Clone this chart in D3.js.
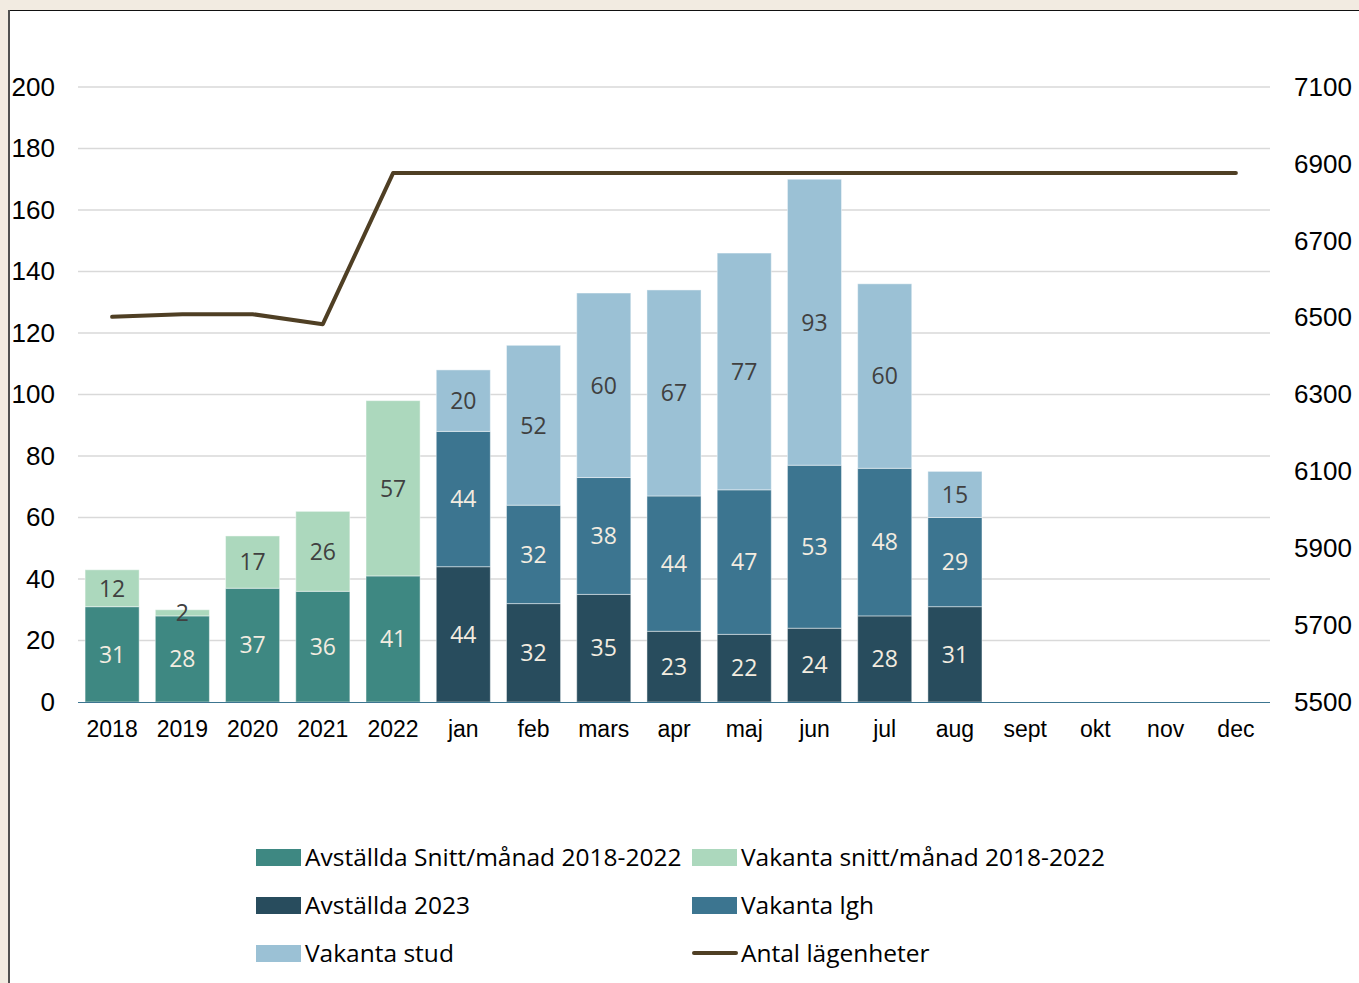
<!DOCTYPE html>
<html><head><meta charset="utf-8">
<script src="https://cdn.jsdelivr.net/npm/d3@7"></script>
<style>
html,body{margin:0;padding:0;background:#f2ebe1;}
svg{display:block;}
</style></head>
<body>
<svg id="chart" width="1359" height="983"></svg>
<script>
const categories = ["2018","2019","2020","2021","2022","jan","feb","mars","apr","maj","jun","jul","aug","sept","okt","nov","dec"];
const avstalldaSnitt = [31,28,37,36,41,null,null,null,null,null,null,null,null,null,null,null,null];
const vakantaSnitt   = [12,2,17,26,57,null,null,null,null,null,null,null,null,null,null,null,null];
const avstallda2023  = [null,null,null,null,null,44,32,35,23,22,24,28,31,null,null,null,null];
const vakantaLgh     = [null,null,null,null,null,44,32,38,44,47,53,48,29,null,null,null,null];
const vakantaStud    = [null,null,null,null,null,20,52,60,67,77,93,60,15,null,null,null,null];
const antalLagenheter = [6502,6509,6509,6483,6876,6876,6876,6876,6876,6876,6876,6876,6876,6876,6876,6876,6876];
const leftTicks = [0,20,40,60,80,100,120,140,160,180,200];
const rightTicks = [5500,5700,5900,6100,6300,6500,6700,6900,7100];

const seriesDefs = [
  {name:"Avställda Snitt/månad 2018-2022", values:avstalldaSnitt, color:"#3e8882", label:"#f3ece0"},
  {name:"Vakanta snitt/månad 2018-2022", values:vakantaSnitt, color:"#acd8bd", label:"#404040"},
  {name:"Avställda 2023", values:avstallda2023, color:"#284c5d", label:"#f3ece0"},
  {name:"Vakanta lgh", values:vakantaLgh, color:"#3c7590", label:"#f3ece0"},
  {name:"Vakanta stud", values:vakantaStud, color:"#9bc1d5", label:"#404040"}
];
const lineColor = "#4f3f24";
const axisFont = "'Liberation Sans', Arial, sans-serif";
const labelFont = "'Open Sans', sans-serif";

const svg = d3.select("#chart");
// frame
svg.append("rect").attr("x",8).attr("y",10).attr("width",1351).attr("height",973).attr("fill","#ffffff");
svg.append("line").attr("x1",8).attr("x2",1359).attr("y1",10.5).attr("y2",10.5).attr("stroke","#111").attr("stroke-width",1.2);
svg.append("line").attr("x1",9).attr("x2",9).attr("y1",10).attr("y2",983).attr("stroke","#505050").attr("stroke-width",2);

const x = d3.scaleBand().domain(categories).range([77,1271]).paddingInner(0.23).paddingOuter(0.115);
const y = d3.scaleLinear().domain([0,200]).range([702,87]);
const y2 = d3.scaleLinear().domain([5500,7100]).range([702,87]);

// gridlines
svg.append("g").selectAll("line").data(leftTicks.filter(d=>d>0)).join("line")
  .attr("x1",78).attr("x2",1270).attr("y1",d=>y(d)).attr("y2",d=>y(d))
  .attr("stroke","#d9d9d9").attr("stroke-width",1.5);

// left axis
const la = svg.append("g").attr("transform","translate(55,0)")
  .call(d3.axisLeft(y).tickValues(leftTicks).tickSize(0).tickPadding(0));
la.select(".domain").remove();
la.selectAll("text").attr("font-family",axisFont).attr("font-size",26).attr("fill","#000");

// right axis
const ra = svg.append("g").attr("transform","translate(1294,0)")
  .call(d3.axisRight(y2).tickValues(rightTicks).tickFormat(d3.format("d")).tickSize(0).tickPadding(0));
ra.select(".domain").remove();
ra.selectAll("text").attr("font-family",axisFont).attr("font-size",26).attr("fill","#000");

// stacked bars
const stackData = categories.map((c,i)=>{
  const o={cat:c};
  seriesDefs.forEach(s=>o[s.name]=s.values[i]||0);
  return o;
});
const stack = d3.stack().keys(seriesDefs.map(s=>s.name));
const layers = stack(stackData);
const barsG = svg.append("g");
layers.forEach((layer,li)=>{
  const s = seriesDefs[li];
  const valid = layer.filter((d,i)=>s.values[i]!=null);
  barsG.append("g").selectAll("rect").data(valid).join("rect")
    .attr("x",d=>x(d.data.cat)).attr("width",x.bandwidth())
    .attr("y",d=>y(d[1])).attr("height",d=>y(d[0])-y(d[1]))
    .attr("fill",s.color).attr("stroke","#ffffff").attr("stroke-opacity",0.45).attr("stroke-width",1);
});

// x axis baseline
svg.append("line").attr("x1",78).attr("x2",1270).attr("y1",702.5).attr("y2",702.5).attr("stroke","#3c7590").attr("stroke-width",1.2);

// x axis labels
const xa = svg.append("g").attr("transform","translate(0,702)")
  .call(d3.axisBottom(x).tickSize(0).tickPadding(19));
xa.select(".domain").remove();
xa.selectAll("text").attr("font-family",axisFont).attr("font-size",23).attr("fill","#000");

// line
const line = d3.line().x((d,i)=>x(categories[i])+x.bandwidth()/2).y(d=>y2(d));
svg.append("path").datum(antalLagenheter).attr("d",line)
  .attr("fill","none").attr("stroke",lineColor).attr("stroke-width",4)
  .attr("stroke-linecap","round").attr("stroke-linejoin","round");

// data labels
const labelsG = svg.append("g");
layers.forEach((layer,li)=>{
  const s = seriesDefs[li];
  const valid = layer.filter((d,i)=>s.values[i]!=null);
  labelsG.append("g").selectAll("text").data(valid).join("text")
    .attr("x",d=>x(d.data.cat)+x.bandwidth()/2)
    .attr("y",d=>(y(d[0])+y(d[1]))/2)
    .attr("dy","0.36em")
    .attr("text-anchor","middle")
    .attr("font-family",labelFont).attr("font-size",23)
    .attr("fill",s.label)
    .text(d=>d[1]-d[0]);
});

// legend
const legendItems = [
  {name:seriesDefs[0].name, color:seriesDefs[0].color, type:"rect", x:256, y:857},
  {name:seriesDefs[1].name, color:seriesDefs[1].color, type:"rect", x:692, y:857},
  {name:seriesDefs[2].name, color:seriesDefs[2].color, type:"rect", x:256, y:905},
  {name:seriesDefs[3].name, color:seriesDefs[3].color, type:"rect", x:692, y:905},
  {name:seriesDefs[4].name, color:seriesDefs[4].color, type:"rect", x:256, y:953},
  {name:"Antal lägenheter", color:lineColor, type:"line", x:692, y:953}
];
const lg = svg.append("g");
legendItems.forEach(it=>{
  if(it.type==="rect"){
    lg.append("rect").attr("x",it.x).attr("y",it.y-8).attr("width",45).attr("height",17).attr("fill",it.color);
  } else {
    lg.append("line").attr("x1",it.x+2).attr("x2",it.x+44).attr("y1",it.y).attr("y2",it.y)
      .attr("stroke",it.color).attr("stroke-width",4).attr("stroke-linecap","round");
  }
  lg.append("text").attr("x",it.x+49).attr("y",it.y).attr("dy","0.36em")
    .attr("font-family",labelFont).attr("font-size",24.5).attr("fill","#000")
    .text(it.name);
});
</script>
</body></html>
